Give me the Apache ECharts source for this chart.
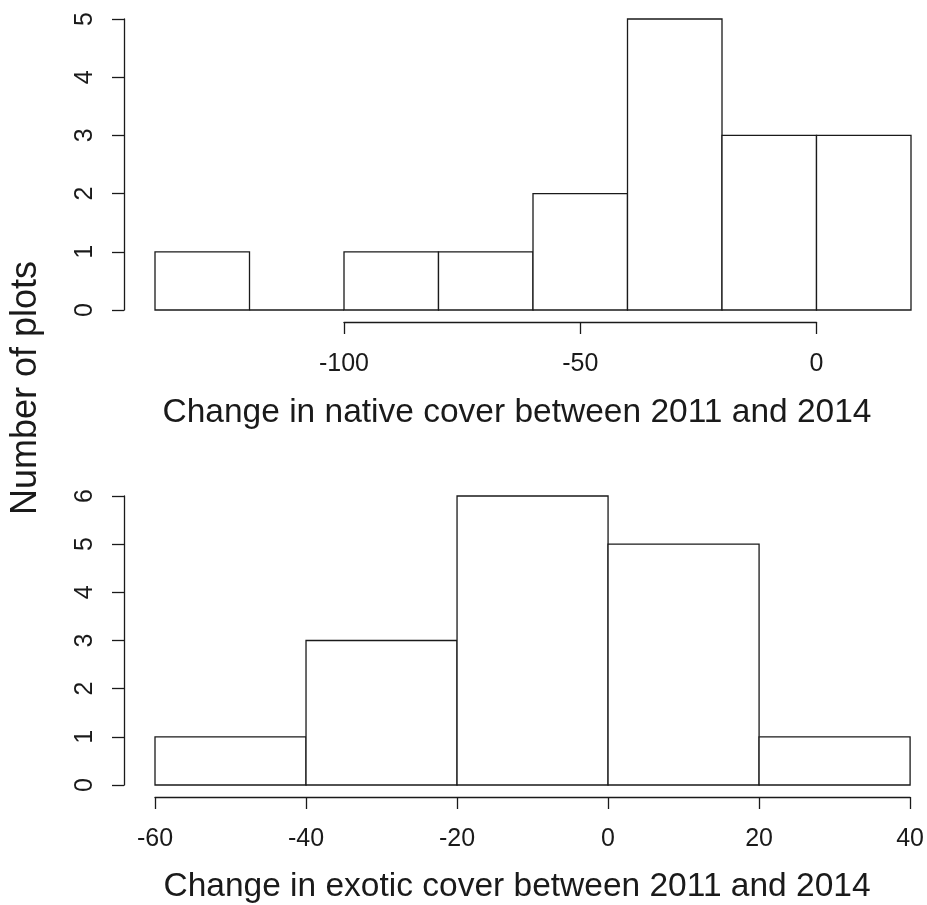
<!DOCTYPE html>
<html>
<head>
<meta charset="utf-8">
<script src="https://cdn.jsdelivr.net/npm/echarts@6/dist/echarts.min.js"></script>
<style>
  html, body { margin: 0; padding: 0; background: #fff; }
  #chart { width: 927px; height: 905px; }
</style>
</head>
<body>
<div id="chart"></div>
<script>
// 原生盖度变化直方图（上）
const nativeBreaks = [-140, -120, -100, -80, -60, -40, -20, 0, 20];
const nativeCounts = [1, 0, 1, 1, 2, 5, 3, 3];
const nativeTicks = [-100, -50, 0];
// 外来种盖度变化直方图（下）
const exoticBreaks = [-60, -40, -20, 0, 20, 40];
const exoticCounts = [1, 3, 6, 5, 1];

const FONT = 'Liberation Sans, Arial, sans-serif';
const INK = '#1a1a1a';

// 直方图柱 → [lo, hi, count]
function bins(breaks, counts) {
  return counts.map((c, i) => [breaks[i], breaks[i + 1], c]);
}

function histSeries(data, idx) {
  return {
    type: 'custom', xAxisIndex: idx, yAxisIndex: idx, data: data, clip: false,
    renderItem: function (params, api) {
      const p0 = api.coord([api.value(0), 0]);
      const p1 = api.coord([api.value(1), api.value(2)]);
      return {
        type: 'rect',
        shape: { x: p0[0], y: p1[1], width: p1[0] - p0[0], height: p0[1] - p1[1] },
        style: { fill: '#fff', stroke: INK, lineWidth: 1.3 }
      };
    }
  };
}

// 主绘图区（像素位置取自原图）；上图 x 轴只画 -100..0，单独一个 grid 按同一比例摆放
const L = 155, R = 911, W = 927;
const lo1 = nativeBreaks[0], hi1 = nativeBreaks[nativeBreaks.length - 1];
const px = v => L + (v - lo1) / (hi1 - lo1) * (R - L);
const axL = px(nativeTicks[0]), axR = px(nativeTicks[nativeTicks.length - 1]);

const tickLabel = { color: INK, fontSize: 25, fontFamily: FONT };
const xLabel = Object.assign({}, tickLabel, { margin: 30 });
const yLabel = Object.assign({}, tickLabel, { rotate: 90, margin: 26 });
const lineStyle = { color: INK, width: 1.3 };
const axLine = { show: true, onZero: false, lineStyle: lineStyle };
const axTick = { show: true, length: 12, lineStyle: lineStyle };
const titleStyle = { color: INK, fontSize: 33.5, fontWeight: 'normal', fontFamily: FONT };

const chart = echarts.init(document.getElementById('chart'));
chart.setOption({
  backgroundColor: '#fff',
  animation: false,
  grid: [
    { left: L, right: W - R, top: 19, height: 291 },
    { left: axL, right: W - axR, top: 321, height: 1 },
    { left: L, right: W - R, top: 496, height: 289 }
  ],
  xAxis: [
    { type: 'value', gridIndex: 0, min: lo1, max: hi1, show: false },
    { type: 'value', gridIndex: 1, min: -100, max: 0, interval: 50,
      axisLine: axLine, axisTick: axTick, axisLabel: xLabel, splitLine: { show: false } },
    { type: 'value', gridIndex: 2, min: -60, max: 40, interval: 20, offset: 12,
      axisLine: axLine, axisTick: axTick, axisLabel: xLabel, splitLine: { show: false } }
  ],
  yAxis: [
    { type: 'value', gridIndex: 0, min: 0, max: 5, interval: 1, offset: 31,
      axisLine: axLine, axisTick: axTick, axisLabel: yLabel, splitLine: { show: false } },
    { type: 'value', gridIndex: 1, show: false },
    { type: 'value', gridIndex: 2, min: 0, max: 6, interval: 1, offset: 31,
      axisLine: axLine, axisTick: axTick, axisLabel: yLabel, splitLine: { show: false } }
  ],
  title: [
    { text: 'Change in native cover between 2011 and 2014', left: 512, top: 391, textAlign: 'center', textStyle: titleStyle },
    { text: 'Change in exotic cover between 2011 and 2014', left: 512, top: 865, textAlign: 'center', textStyle: titleStyle }
  ],
  graphic: [
    { type: 'text', x: 8, y: 388, rotation: Math.PI / 2,
      style: { text: 'Number of plots', fill: INK, font: '36px ' + FONT, align: 'center', verticalAlign: 'top' } }
  ],
  series: [
    histSeries(bins(nativeBreaks, nativeCounts), 0),
    histSeries(bins(exoticBreaks, exoticCounts), 2)
  ]
});
</script>
</body>
</html>
